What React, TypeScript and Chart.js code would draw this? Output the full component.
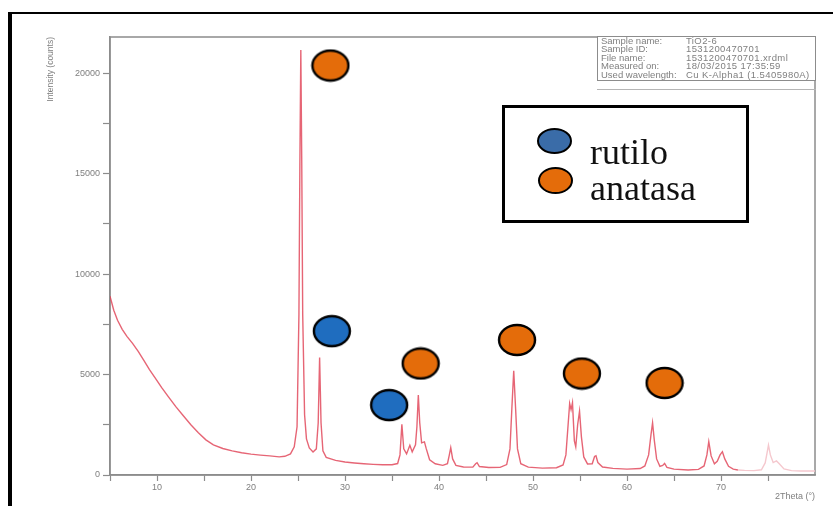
import { useEffect, useRef } from 'react';
import { Chart, registerables } from 'chart.js';

Chart.register(...registerables);

const twoTheta = [
  5.0, 5.4, 5.8, 6.3, 6.8, 7.4, 8.0, 8.6, 9.2, 9.8, 10.5, 11.2, 12.0, 12.8, 13.6, 14.4, 15.2, 16.0, 17.0, 18.0,
  19.0, 20.0, 21.0, 22.0, 23.0, 23.6, 24.2, 24.6, 24.9, 25.1, 25.2, 25.3, 25.4, 25.5, 25.7, 25.9, 26.2, 26.6,
  26.95, 27.15, 27.3, 27.45, 27.65, 28.0, 29.0, 30.0, 31.0, 32.0, 33.0, 34.0, 35.0, 35.6, 35.85, 36.05, 36.25,
  36.55, 36.9, 37.15, 37.5, 37.65, 37.8, 37.95, 38.15, 38.45, 38.65, 39.0, 39.6, 40.4, 40.9, 41.1, 41.25, 41.45,
  41.8, 42.6, 43.6, 43.9, 44.05, 44.3, 45.3, 46.5, 47.2, 47.55, 47.75, 47.95, 48.15, 48.35, 48.7, 49.5, 51.0,
  52.5, 53.2, 53.5, 53.75, 53.9, 54.05, 54.2, 54.4, 54.55, 54.75, 54.95, 55.15, 55.4, 55.8, 56.3, 56.55, 56.7,
  56.9, 57.4, 58.5, 60.0, 61.4, 61.9, 62.3, 62.55, 62.72, 62.9, 63.15, 63.5, 63.8, 64.0, 64.25, 65.0, 66.5,
  67.6, 68.2, 68.5, 68.7, 68.95, 69.3, 69.6, 69.9, 70.15, 70.4, 70.8, 71.3, 71.8, 72.5, 73.5, 74.3, 74.7, 74.9,
  75.05, 75.25, 75.55, 75.9, 76.2, 76.7, 77.5, 78.5, 79.3, 80.0,
];
const intensity = [
  8900, 8200, 7700, 7250, 6900, 6550, 6150, 5700, 5250, 4830, 4350, 3900, 3400, 2950, 2500, 2100, 1750, 1500, 1320, 1200,
  1110, 1040, 990, 950, 900, 930, 1050, 1400, 2400, 8000, 15500, 21150, 15500, 8000, 3000, 1800, 1350, 1150,
  1300, 2600, 5850, 2600, 1200, 880, 730, 650, 600, 560, 530, 510, 510, 570, 1000, 2520, 1300,
  1050, 1480, 1150, 1500, 2400, 3980, 2600, 1600, 1650, 1300, 760, 560, 480, 560, 1000, 1360, 800,
  480, 400, 390, 560, 610, 420, 370, 380, 520, 1300, 3300, 5190, 3300, 1300, 560, 390, 340,
  360, 500, 1000, 2600, 3560, 3250, 3600, 1700, 1400, 2500, 3180, 1900, 900, 550, 560, 920, 960,
  620, 400, 330, 290, 320, 450, 1000, 2000, 2600, 1750, 800, 430, 480, 580, 380, 290, 250,
  280, 450, 1000, 1660, 950, 560, 680, 1000, 1160, 800, 430, 290, 250, 230, 220, 260, 600, 1100,
  1490, 1000, 620, 700, 560, 300, 220, 200, 200, 200,
];
const fadedFrom = 71.8;

// phase markers (position in 2θ, intensity)
const rutiloX = [28.6, 34.7];
const rutiloY = [7160, 3480];
const anatasaX = [28.45, 38.05, 48.3, 55.2, 64.0];
const anatasaY = [20380, 5550, 6720, 5050, 4580];

// tick positions (major + minor) and the ones that carry labels
const xTickValues = [5, 10, 15, 20, 25, 30, 35, 40, 45, 50, 55, 60, 65, 70, 75];
const xLabelValues = [10, 20, 30, 40, 50, 60, 70];
const yTickValues = [0, 2500, 5000, 7500, 10000, 12500, 15000, 17500, 20000];
const yLabelValues = [0, 5000, 10000, 15000, 20000];

const legendLabels = ['rutilo', 'anatasa'];
const infoLabels = ['Sample name:', 'Sample ID:', 'File name:', 'Measured on:', 'Used wavelength:'];
const infoValues = ['TiO2-6', '1531200470701', '1531200470701.xrdml', '18/03/2015 17:35:59', 'Cu K-Alpha1 (1.5405980A)'];

const BLUE = '#1f6dbf';
const ORANGE = '#e46c0a';
const LEG_BLUE = '#3a6ca8';
const LINE = 'rgba(224, 62, 82, 0.8)';
const FADED = '#f5c8ce';
const AXIS = '#8c8c8c';
const TXT = '#7f7f7f';

function makeEllipse(fill: string, w: number, h: number) {
  const c = document.createElement('canvas');
  c.width = w + 4;
  c.height = h + 4;
  const g = c.getContext('2d')!;
  g.beginPath();
  g.ellipse(c.width / 2, c.height / 2, w / 2, h / 2, 0, 0, Math.PI * 2);
  g.fillStyle = fill;
  g.fill();
  g.lineWidth = 2.4;
  g.strokeStyle = '#000';
  g.stroke();
  return c;
}

const framePlugin = {
  id: 'frame',
  beforeDatasetsDraw(chart: any) {
    const { ctx, chartArea: a } = chart;
    ctx.save();
    ctx.strokeStyle = AXIS;
    ctx.lineWidth = 1.5;
    ctx.strokeRect(a.left, a.top, a.right - a.left, a.bottom - a.top);
    ctx.restore();
  },
};

const tickFont = { family: 'Liberation Sans, Arial, sans-serif', size: 9 };

export default function App() {
  const ref = useRef<HTMLCanvasElement>(null);

  useEffect(() => {
    if (!ref.current) return;
    const blueImg = makeEllipse(BLUE, 36, 30);
    const orangeImg = makeEllipse(ORANGE, 36, 30);
    const linePts = twoTheta.map((x, i) => ({ x, y: intensity[i] }));
    const rutiloPts = rutiloX.map((x, i) => ({ x, y: rutiloY[i] }));
    const anatasaPts = anatasaX.map((x, i) => ({ x, y: anatasaY[i] }));

    const chart = new Chart(ref.current, {
      type: 'line',
      data: {
        datasets: [
          {
            type: 'scatter',
            label: legendLabels[0],
            data: rutiloPts,
            pointStyle: blueImg as any,
            pointRadius: 15,
            showLine: false,
          },
          {
            type: 'scatter',
            label: legendLabels[1],
            data: anatasaPts,
            pointStyle: orangeImg as any,
            pointRadius: 15,
            showLine: false,
          },
          {
            type: 'line',
            label: 'TiO2-6',
            data: linePts,
            borderColor: LINE,
            borderWidth: 1.4,
            pointRadius: 0,
            tension: 0,
            fill: false,
            segment: {
              borderColor: (c: any) => (c.p0.parsed.x >= fadedFrom ? FADED : LINE),
            },
          } as any,
        ],
      },
      options: {
        responsive: false,
        animation: false,
        events: [],
        layout: { padding: { top: 37, right: 18, left: 0, bottom: 0 } },
        plugins: { legend: { display: false }, tooltip: { enabled: false } },
        scales: {
          x: {
            type: 'linear',
            min: 5,
            max: 80,
            afterBuildTicks(s: any) {
              s.ticks = xTickValues.map((value) => ({ value }));
            },
            afterFit(s: any) {
              s.height = 31;
            },
            border: { display: true, color: AXIS, width: 1.5 },
            grid: { display: true, drawOnChartArea: false, drawTicks: true, tickLength: 6, tickColor: AXIS, tickWidth: 1.2 },
            ticks: {
              autoSkip: false,
              maxRotation: 0,
              padding: 1,
              color: TXT,
              font: tickFont,
              callback: (v: any) => (xLabelValues.includes(Number(v)) ? String(v) : ''),
            },
            title: {
              display: true,
              text: '2Theta (°)',
              align: 'end',
              color: TXT,
              font: tickFont,
              padding: { top: 0, bottom: 4 },
            },
          },
          y: {
            type: 'linear',
            min: 0,
            max: 21800,
            afterBuildTicks(s: any) {
              s.ticks = yTickValues.map((value) => ({ value }));
            },
            afterFit(s: any) {
              s.width = 110;
            },
            border: { display: true, color: AXIS, width: 1.5 },
            grid: { display: true, drawOnChartArea: false, drawTicks: true, tickLength: 7, tickColor: AXIS, tickWidth: 1.2 },
            ticks: {
              autoSkip: false,
              padding: 3,
              color: TXT,
              font: tickFont,
              callback: (v: any) => (yLabelValues.includes(Number(v)) ? String(v) : ''),
            },
            title: {
              display: true,
              text: 'Intensity (counts)',
              align: 'end',
              color: TXT,
              font: { family: 'Liberation Sans, Arial, sans-serif', size: 8.5 },
              padding: { top: 46, bottom: 0 },
            },
          },
        },
      } as any,
      plugins: [framePlugin],
    });
    return () => chart.destroy();
  }, []);

  const ell = (fill: string, left: number, top: number, w: number, h: number) => (
    <div
      style={{
        position: 'absolute',
        left,
        top,
        width: w,
        height: h,
        borderRadius: '50%',
        background: fill,
        border: '2.4px solid #000',
        boxSizing: 'border-box',
      }}
    />
  );

  return (
    <div style={{ position: 'fixed', left: 0, top: 0, width: 833, height: 506, background: '#fff', overflow: 'hidden' }}>
      <canvas ref={ref} width={833} height={506} style={{ position: 'absolute', left: 0, top: 0, width: 833, height: 506 }} />
      {/* outer frame */}
      <div style={{ position: 'absolute', left: 8, top: 12, width: 830, height: 500, borderTop: '2px solid #000', borderLeft: '4px solid #000', boxSizing: 'border-box' }} />
      {/* info box */}
      <div
        style={{
          position: 'absolute',
          left: 597,
          top: 36,
          width: 219,
          height: 45,
          border: '1.5px solid #8c8c8c',
          boxSizing: 'border-box',
          background: '#fff',
          fontFamily: 'Liberation Sans, Arial, sans-serif',
          fontSize: 9.5,
          lineHeight: '8.4px',
          color: TXT,
          whiteSpace: 'nowrap',
        }}
      >
        {infoLabels.map((l, i) => (
          <div key={i} style={{ position: 'relative', height: 8.4 }}>
            <span style={{ position: 'absolute', left: 3 }}>{l}</span>
            <span style={{ position: 'absolute', left: 88, letterSpacing: 0.4 }}>{infoValues[i]}</span>
          </div>
        ))}
      </div>
      <div style={{ position: 'absolute', left: 597, top: 89, width: 219, height: 0, borderTop: '1px solid #b5b5b5' }} />
      {/* legend box */}
      <div
        style={{
          position: 'absolute',
          left: 502,
          top: 105,
          width: 247,
          height: 118,
          border: '3px solid #000',
          boxSizing: 'border-box',
          background: '#fff',
          fontFamily: 'Liberation Serif, Times New Roman, serif',
          fontSize: 36,
          lineHeight: '36px',
          color: '#111',
        }}
      >
        {ell(LEG_BLUE, 32, 20, 35, 26)}
        {ell(ORANGE, 33, 59, 35, 27)}
        <div style={{ position: 'absolute', left: 85, top: 26 }}>{legendLabels[0]}</div>
        <div style={{ position: 'absolute', left: 85, top: 62 }}>{legendLabels[1]}</div>
      </div>
    </div>
  );
}
